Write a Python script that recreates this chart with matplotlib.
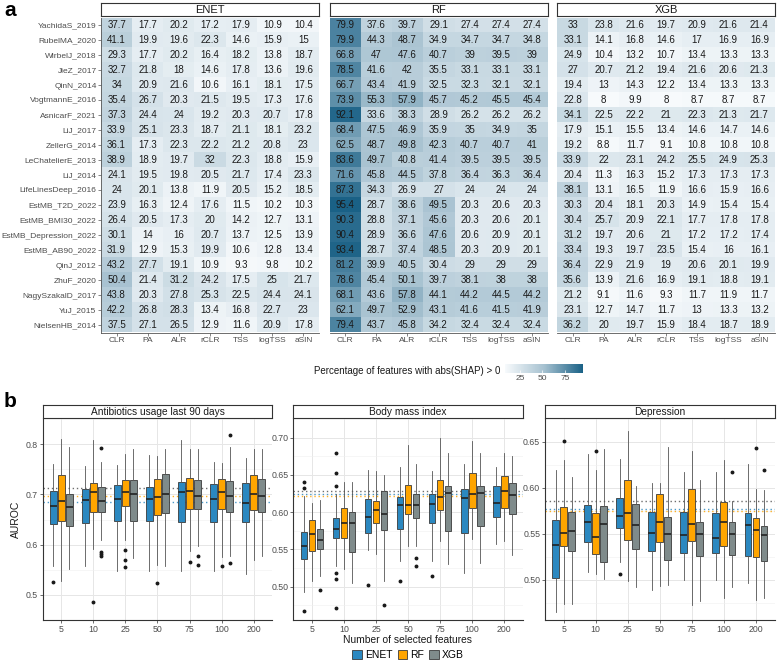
import numpy as np
import matplotlib
matplotlib.use("Agg")
import matplotlib.pyplot as plt
from matplotlib.colors import LinearSegmentedColormap
from matplotlib.patches import Patch
from matplotlib.cm import ScalarMappable
from matplotlib.colors import Normalize

plt.rcParams['font.family'] = ['Liberation Sans', 'DejaVu Sans']

# ---------------- data: panel a ----------------
datasets = ['YachidaS_2019', 'RubelMA_2020', 'WirbelJ_2018', 'JieZ_2017', 'QinN_2014',
            'VogtmannE_2016', 'AsnicarF_2021', 'LiJ_2017', 'ZellerG_2014',
            'LeChatelierE_2013', 'LiJ_2014', 'LifeLinesDeep_2016', 'EstMB_T2D_2022',
            'EstMB_BMI30_2022', 'EstMB_Depression_2022', 'EstMB_AB90_2022', 'QinJ_2012',
            'ZhuF_2020', 'NagySzakalD_2017', 'YuJ_2015', 'NielsenHB_2014']
transforms = ['CLR', 'PA', 'ALR', 'rCLR', 'TSS', 'logTSS', 'aSIN']

enet_pct = [
    [37.7, 17.7, 20.2, 17.2, 17.9, 10.9, 10.4],
    [41.1, 19.9, 19.6, 22.3, 14.6, 15.9, 15],
    [29.3, 17.7, 20.2, 16.4, 18.2, 13.8, 18.7],
    [32.7, 21.8, 18, 14.6, 17.8, 13.6, 19.6],
    [34, 20.9, 21.6, 10.6, 16.1, 18.1, 17.5],
    [35.4, 26.7, 20.3, 21.5, 19.5, 17.3, 17.6],
    [37.3, 24.4, 24, 19.2, 20.3, 20.7, 17.8],
    [33.9, 25.1, 23.3, 18.7, 21.1, 18.1, 23.2],
    [36.1, 17.3, 22.3, 22.2, 21.2, 20.8, 23],
    [38.9, 18.9, 19.7, 32, 22.3, 18.8, 15.9],
    [24.1, 19.5, 19.8, 20.5, 21.7, 17.4, 23.3],
    [24, 20.1, 13.8, 11.9, 20.5, 15.2, 18.5],
    [23.9, 16.3, 12.4, 17.6, 11.5, 10.2, 10.3],
    [26.4, 20.5, 17.3, 20, 14.2, 12.7, 13.1],
    [30.1, 14, 16, 20.7, 13.7, 12.5, 13.9],
    [31.9, 12.9, 15.3, 19.9, 10.6, 12.8, 13.4],
    [43.2, 27.7, 19.1, 10.9, 9.3, 9.8, 10.2],
    [50.4, 21.4, 31.2, 24.2, 17.5, 25, 21.7],
    [43.8, 20.3, 27.8, 25.3, 22.5, 24.4, 24.1],
    [42.2, 26.8, 28.3, 13.4, 16.8, 22.7, 23],
    [37.5, 27.1, 26.5, 12.9, 11.6, 20.9, 17.8],
]
rf_pct = [
    [79.9, 37.6, 39.7, 29.1, 27.4, 27.4, 27.4],
    [79.9, 44.3, 48.7, 34.9, 34.7, 34.7, 34.8],
    [66.8, 47, 47.6, 40.7, 39, 39.5, 39],
    [78.5, 41.6, 42, 35.5, 33.1, 33.1, 33.1],
    [66.7, 43.4, 41.9, 32.5, 32.3, 32.1, 32.1],
    [73.9, 55.3, 57.9, 45.7, 45.2, 45.5, 45.4],
    [92.1, 33.6, 38.3, 28.9, 26.2, 26.2, 26.2],
    [68.4, 47.5, 46.9, 35.9, 35, 34.9, 35],
    [62.5, 48.7, 49.8, 42.3, 40.7, 40.7, 41],
    [83.6, 49.7, 40.8, 41.4, 39.5, 39.5, 39.5],
    [71.6, 45.8, 44.5, 37.8, 36.4, 36.3, 36.4],
    [87.3, 34.3, 26.9, 27, 24, 24, 24],
    [95.4, 28.7, 38.6, 49.5, 20.3, 20.6, 20.3],
    [90.3, 28.8, 37.1, 45.6, 20.3, 20.6, 20.1],
    [90.4, 28.9, 36.6, 47.6, 20.6, 20.9, 20.1],
    [93.4, 28.7, 37.4, 48.5, 20.3, 20.9, 20.1],
    [81.2, 39.9, 40.5, 30.4, 29, 29, 29],
    [78.6, 45.4, 50.1, 39.7, 38.1, 38, 38],
    [68.1, 43.6, 57.8, 44.1, 44.2, 44.5, 44.2],
    [62.1, 49.7, 52.9, 43.1, 41.6, 41.5, 41.9],
    [79.4, 43.7, 45.8, 34.2, 32.4, 32.4, 32.4],
]
xgb_pct = [
    [33, 23.8, 21.6, 19.7, 20.9, 21.6, 21.4],
    [33.1, 14.1, 16.8, 14.6, 17, 16.9, 16.9],
    [24.9, 10.4, 13.2, 10.7, 13.4, 13.3, 13.3],
    [27, 20.7, 21.2, 19.4, 21.6, 20.6, 21.3],
    [19.4, 13, 14.3, 12.2, 13.4, 13.3, 13.3],
    [22.8, 8, 9.9, 8, 8.7, 8.7, 8.7],
    [34.1, 22.5, 22.2, 21, 22.3, 21.3, 21.7],
    [17.9, 15.1, 15.5, 13.4, 14.6, 14.7, 14.6],
    [19.2, 8.8, 11.7, 9.1, 10.8, 10.8, 10.8],
    [33.9, 22, 23.1, 24.2, 25.5, 24.9, 25.3],
    [20.4, 11.3, 16.3, 15.2, 17.3, 17.3, 17.3],
    [38.1, 13.1, 16.5, 11.9, 16.6, 15.9, 16.6],
    [30.3, 20.4, 18.1, 20.3, 14.9, 15.4, 15.4],
    [30.4, 25.7, 20.9, 22.1, 17.7, 17.8, 17.8],
    [31.2, 19.7, 20.6, 21, 17.2, 17.2, 17.4],
    [33.4, 19.3, 19.7, 23.5, 15.4, 16, 16.1],
    [36.4, 22.9, 21.9, 19, 20.6, 20.1, 19.9],
    [35.6, 13.9, 21.6, 16.9, 19.1, 18.8, 19.1],
    [21.2, 9.1, 11.6, 9.3, 11.7, 11.9, 11.7],
    [23.1, 12.7, 14.7, 11.7, 13, 13.3, 13.2],
    [36.2, 20, 19.7, 15.9, 18.4, 18.7, 18.9],
]

# ---------------- data: panel b ----------------
n_features = ['5', '10', '25', '50', '75', '100', '200']
models = ['ENET', 'RF', 'XGB']
model_colors = ['#2b88c0', '#ffa500', '#7f8b8b']

# box stats per group: [whisker low, q1, median, q3, whisker high]
ab_enet = [[0.557, 0.641, 0.676, 0.707, 0.760], [0.557, 0.644, 0.689, 0.711, 0.757],
           [0.548, 0.647, 0.691, 0.719, 0.758], [0.547, 0.647, 0.691, 0.715, 0.778],
           [0.547, 0.645, 0.704, 0.724, 0.808], [0.547, 0.645, 0.691, 0.720, 0.765],
           [0.542, 0.645, 0.683, 0.722, 0.772]]
ab_rf = [[0.528, 0.647, 0.687, 0.739, 0.811], [0.591, 0.664, 0.704, 0.722, 0.808],
         [0.609, 0.676, 0.704, 0.729, 0.780], [0.560, 0.659, 0.695, 0.731, 0.776],
         [0.588, 0.671, 0.707, 0.733, 0.790], [0.575, 0.671, 0.704, 0.730, 0.762],
         [0.570, 0.668, 0.700, 0.739, 0.790]]
ab_xgb = [[0.551, 0.638, 0.675, 0.701, 0.795], [0.610, 0.665, 0.686, 0.714, 0.765],
          [0.573, 0.647, 0.700, 0.729, 0.790], [0.557, 0.662, 0.700, 0.741, 0.790],
          [0.597, 0.671, 0.697, 0.729, 0.790], [0.577, 0.665, 0.697, 0.727, 0.795],
          [0.577, 0.665, 0.697, 0.731, 0.790]]
ab_out = [[(0, 0.526)],
          [(1, 0.486), (2, 0.589), (2, 0.570), (2, 0.555), (3, 0.524), (4, 0.565), (5, 0.558)],
          [(1, 0.586), (1, 0.581), (1, 0.577), (1, 0.793), (4, 0.578), (4, 0.559),
           (5, 0.564), (5, 0.818)]]
ab_ref = [0.685, 0.697, 0.712]

bmi_enet = [[0.493, 0.5375, 0.555, 0.574, 0.622], [0.528, 0.566, 0.577, 0.592, 0.625],
            [0.549, 0.572, 0.593, 0.618, 0.657], [0.535, 0.5775, 0.609, 0.620, 0.660],
            [0.534, 0.585, 0.611, 0.624, 0.655], [0.519, 0.572, 0.619, 0.631, 0.665],
            [0.557, 0.594, 0.613, 0.635, 0.660]]
bmi_rf = [[0.508, 0.548, 0.571, 0.589, 0.612], [0.524, 0.566, 0.586, 0.605, 0.640],
          [0.544, 0.586, 0.603, 0.615, 0.655], [0.555, 0.598, 0.609, 0.637, 0.690],
          [0.562, 0.603, 0.620, 0.643, 0.700], [0.564, 0.605, 0.624, 0.652, 0.695],
          [0.562, 0.605, 0.628, 0.649, 0.680]]
bmi_xgb = [[0.515, 0.551, 0.5625, 0.5775, 0.617], [0.505, 0.547, 0.585, 0.600, 0.640],
           [0.5075, 0.576, 0.597, 0.628, 0.650], [0.555, 0.592, 0.609, 0.624, 0.665],
           [0.530, 0.575, 0.626, 0.635, 0.680], [0.5325, 0.581, 0.626, 0.635, 0.680],
           [0.542, 0.597, 0.623, 0.639, 0.675]]
bmi_out = [[(0, 0.467), (0, 0.632), (0, 0.640), (1, 0.518), (1, 0.510), (1, 0.471),
            (1, 0.635), (1, 0.653), (1, 0.680), (2, 0.502), (3, 0.5075), (4, 0.514)],
           [],
           [(0, 0.496), (2, 0.476), (3, 0.539), (3, 0.528)]]
bmi_ref = [0.625, 0.622, 0.629]

dep_enet = [[0.465, 0.5025, 0.538, 0.5656, 0.620], [0.509, 0.541, 0.5635, 0.582, 0.637],
            [0.520, 0.5567, 0.570, 0.5887, 0.631], [0.489, 0.531, 0.5514, 0.574, 0.605],
            [0.500, 0.529, 0.5486, 0.574, 0.617], [0.500, 0.5298, 0.5457, 0.5723, 0.617],
            [0.4965, 0.5262, 0.5592, 0.5723, 0.626]]
dep_rf = [[0.474, 0.537, 0.5514, 0.579, 0.630], [0.506, 0.528, 0.5468, 0.5723, 0.620],
          [0.499, 0.5433, 0.5727, 0.609, 0.662], [0.4936, 0.541, 0.5628, 0.593, 0.605],
          [0.4723, 0.542, 0.5603, 0.5993, 0.640], [0.4805, 0.5372, 0.5628, 0.5851, 0.630],
          [0.4784, 0.5248, 0.5539, 0.567, 0.599]]
dep_xgb = [[0.474, 0.5316, 0.553, 0.574, 0.612], [0.501, 0.520, 0.5603, 0.580, 0.642],
           [0.4918, 0.5337, 0.560, 0.583, 0.602], [0.4943, 0.522, 0.550, 0.5688, 0.645],
           [0.477, 0.5262, 0.550, 0.5628, 0.609], [0.4926, 0.5273, 0.550, 0.5628, 0.5858],
           [0.4805, 0.5209, 0.5486, 0.5585, 0.5975]]
dep_out = [[(2, 0.5067)],
           [(0, 0.651), (1, 0.640), (6, 0.644)],
           [(5, 0.617), (6, 0.619)]]
dep_ref = [0.577, 0.575, 0.586]

# ---------------- figure ----------------
W, H = 777, 661
fig = plt.figure(figsize=(W / 100, H / 100), dpi=100)


def px_axes(x0, y0, x1, y1):
    return fig.add_axes([x0 / W, 1 - y1 / H, (x1 - x0) / W, (y1 - y0) / H])


def strip(x0, y0, x1, y1, label, size):
    s = px_axes(x0, y0, x1, y1)
    s.set_xticks([])
    s.set_yticks([])
    for sp in s.spines.values():
        sp.set_color('#333333')
        sp.set_linewidth(0.8)
    s.text(0.5, 0.45, label, ha='center', va='center', fontsize=size, color='#1a1a1a')


cmap = LinearSegmentedColormap.from_list('shap', ['#f7fafc', '#a6c1d0', '#1a6186'])
vmin, vmax = 8, 95.4

hm_left = [101, 329.5, 557]
hm_w = 218
hm_top, hm_bot = 17.5, 332.5
for k, (name, vals) in enumerate(zip(models, [enet_pct, rf_pct, xgb_pct])):
    x0 = hm_left[k]
    ax = px_axes(x0, hm_top, x0 + hm_w, hm_bot)
    arr = np.array(vals)
    ax.imshow(arr, cmap=cmap, vmin=vmin, vmax=vmax, aspect='auto')
    for i in range(arr.shape[0]):
        for j in range(arr.shape[1]):
            ax.text(j, i, f'{arr[i, j]:g}', ha='center', va='center',
                    fontsize=7, color='#1a1a1a')
    ax.set_xticks(range(len(transforms)))
    ax.set_xticklabels(transforms, fontsize=6, color='#4d4d4d')
    ax.tick_params(axis='x', length=2, width=0.5, color='#555555', pad=1.5)
    for sp in ['top', 'right', 'left']:
        ax.spines[sp].set_visible(False)
    ax.spines['bottom'].set_color('#555555')
    ax.spines['bottom'].set_linewidth(0.6)
    if k == 0:
        ax.set_yticks(range(len(datasets)))
        ax.set_yticklabels(datasets, fontsize=6.0, color='#4d4d4d')
        ax.tick_params(axis='y', length=2, width=0.5, color='#555555', pad=1.2)
        ax.spines['left'].set_visible(True)
        ax.spines['left'].set_color('#555555')
        ax.spines['left'].set_linewidth(0.6)
    else:
        ax.set_yticks([])
    strip(x0, 3, x0 + hm_w, 16, name, 8)

# colorbar
cax = px_axes(505, 364, 583, 373)
cb = fig.colorbar(ScalarMappable(norm=Normalize(vmin, vmax), cmap=cmap), cax=cax,
                  orientation='horizontal')
cb.outline.set_visible(False)
cb.set_ticks([25, 50, 75])
cax.tick_params(labelsize=6, length=2, width=0.5, color='white', pad=1.5,
                labelcolor='#4d4d4d', direction='in')
fig.text(500 / W, 1 - 371 / H, 'Percentage of features with abs(SHAP) > 0',
         ha='right', va='center', fontsize=7, color='#1a1a1a')

fig.text(4 / W, 1 - 10 / H, 'a', fontsize=15, fontweight='bold', va='center', ha='left')
fig.text(4 / W, 1 - 402 / H, 'b', fontsize=15, fontweight='bold', va='center', ha='left')

# ---------------- panel b ----------------
panels = [
    ('Antibiotics usage last 90 days', [ab_enet, ab_rf, ab_xgb], ab_out, ab_ref,
     (0.4696, 0.835), [0.5, 0.6, 0.7, 0.8], '{:.1f}'),
    ('Body mass index', [bmi_enet, bmi_rf, bmi_xgb], bmi_out, bmi_ref,
     (0.4554, 0.7066), [0.50, 0.55, 0.60, 0.65, 0.70], '{:.2f}'),
    ('Depression', [dep_enet, dep_rf, dep_xgb], dep_out, dep_ref,
     (0.4564, 0.6702), [0.50, 0.55, 0.60, 0.65], '{:.2f}'),
]
bx_left = [42.7, 293.3, 545]
bx_w = 229.5
offsets = [-0.25, 0, 0.25]
pos = np.arange(1, len(n_features) + 1)

for p, (title, stats_list, outs, refs, ylim, yt, fmt) in enumerate(panels):
    x0 = bx_left[p]
    ax = px_axes(x0, 419, x0 + bx_w, 620)

    for m in range(3):
        ax.axhline(refs[m], color=model_colors[m] if m < 2 else '#555555',
                   linestyle=(0, (1, 2)), linewidth=1.0, alpha=0.85, zorder=1)

    for m in range(3):
        bstats = []
        for g, (lo, q1, med, q3, hi) in enumerate(stats_list[m]):
            fl = [v for gi, v in outs[m] if gi == g]
            bstats.append(dict(whislo=lo, q1=q1, med=med, q3=q3, whishi=hi, fliers=fl))
        ax.bxp(bstats, positions=pos + offsets[m], widths=0.21, patch_artist=True,
               showcaps=False, manage_ticks=False,
               boxprops=dict(facecolor=model_colors[m], edgecolor='#3a3a3a', linewidth=0.6),
               medianprops=dict(color='#222222', linewidth=1.2),
               whiskerprops=dict(color='#555555', linewidth=0.6),
               flierprops=dict(marker='o', markersize=1.8, markerfacecolor='#1a1a1a',
                               markeredgecolor='#1a1a1a'),
               zorder=3)

    ax.set_xlim(0.42, 7.58)
    ax.set_ylim(*ylim)
    ax.set_yticks(yt)
    ax.set_yticklabels([fmt.format(v) for v in yt])
    minor = [(a + b) / 2 for a, b in zip(yt[:-1], yt[1:])]
    minor = [yt[0] - (yt[1] - yt[0]) / 2] + minor + [yt[-1] + (yt[1] - yt[0]) / 2]
    ax.set_yticks(minor, minor=True)
    ax.set_xticks(pos)
    ax.set_xticklabels(n_features)
    ax.grid(True, which='major', color='#e6e6e6', linewidth=0.7)
    ax.grid(True, which='minor', axis='y', color='#f0f0f0', linewidth=0.4)
    ax.set_axisbelow(True)
    ax.tick_params(axis='both', which='major', labelsize=6.3, labelcolor='#4d4d4d',
                   length=2, width=0.5, color='#333333', pad=1.5)
    ax.tick_params(axis='both', which='minor', length=0)
    for sp in ['top', 'right']:
        ax.spines[sp].set_visible(False)
    for sp in ['left', 'bottom']:
        ax.spines[sp].set_color('#333333')
        ax.spines[sp].set_linewidth(0.8)

    if p == 0:
        ax.set_ylabel('AUROC', fontsize=7.5, color='#1a1a1a', labelpad=3)
    strip(x0, 405, x0 + bx_w, 418, title, 7.3)

fig.text(408 / W, 1 - 640 / H, 'Number of selected features', ha='center', va='center',
         fontsize=7.4, color='#1a1a1a')

handles = [Patch(facecolor=c, edgecolor='#3a3a3a', linewidth=0.6) for c in model_colors]
fig.legend(handles, models, loc='center', bbox_to_anchor=(408 / W, 1 - 655 / H),
           ncol=3, frameon=False, fontsize=7.5, handlelength=0.9, handleheight=0.9,
           columnspacing=0.5, handletextpad=0.3, borderpad=0)

fig.savefig('out.png', dpi=100, facecolor='white')
